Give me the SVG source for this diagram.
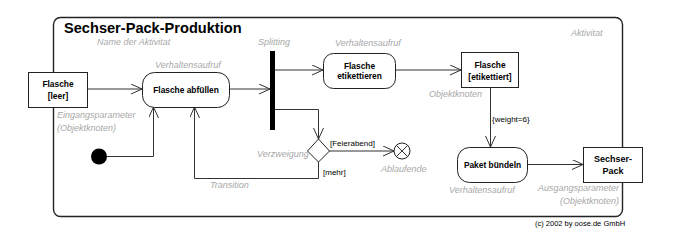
<svg xmlns="http://www.w3.org/2000/svg" width="675" height="246" viewBox="0 0 675 246">
  <style>
    .frame { fill: #ffffff; stroke: #222222; stroke-width: 1.4; }
    .node { fill: #ffffff; stroke: #222222; stroke-width: 1; }
    .edge { fill: none; stroke: #333333; stroke-width: 1; }
    .name { font-family: "Liberation Sans", Arial, sans-serif; font-weight: bold; font-size: 8.4px; fill: #000000; text-anchor: middle; }
    .title { font-family: "Liberation Sans", Arial, sans-serif; font-weight: bold; font-size: 14.6px; fill: #000000; }
    .note { font-family: "Liberation Sans", Arial, sans-serif; font-style: italic; font-size: 9px; fill: #a8a8a8; }
    .guard { font-family: "Liberation Sans", Arial, sans-serif; font-size: 8px; fill: #000000; }
  </style>
  <defs>
    <marker id="open" markerUnits="userSpaceOnUse" markerWidth="13" markerHeight="12" refX="11" refY="5" orient="auto">
      <path d="M0,0 L11,5 L0,10" fill="none" stroke="#333333" stroke-width="1"/>
    </marker>
  </defs>

  <rect width="675" height="246" fill="#ffffff"/>

  <!-- activity frame -->
  <g id="activity">
    <rect class="frame" x="53.5" y="17.5" width="569" height="199" rx="7"/>
    <text class="title" x="64" y="33">Sechser-Pack-Produktion</text>
  </g>

  <!-- control and object flows -->
  <g id="connectors">
    <path class="edge" d="M87,89 H142" marker-end="url(#open)"/>
    <path class="edge" d="M229,89 H270" marker-end="url(#open)"/>
    <path class="edge" d="M275,70 H323" marker-end="url(#open)"/>
    <path class="edge" d="M395,70 H461" marker-end="url(#open)"/>
    <path class="edge" d="M490.5,87 V147" marker-end="url(#open)"/>
    <path class="edge" d="M527,164.5 H583" marker-end="url(#open)"/>
    <path class="edge" d="M107,156.5 H153.5 V107" marker-end="url(#open)"/>
    <path class="edge" d="M275,109.5 H318.5 V139" marker-end="url(#open)"/>
    <path class="edge" d="M329,151 H394" marker-end="url(#open)"/>
    <path class="edge" d="M318.5,162 V178.5 H194.5 V107" marker-end="url(#open)"/>
    <text class="guard" x="492" y="122">{weight=6}</text>
    <text class="guard" x="330" y="146">[Feierabend]</text>
    <text class="guard" x="323" y="175">[mehr]</text>
  </g>

  <g id="flasche-leer">
    <rect class="node" x="28.5" y="72.5" width="59" height="35"/>
    <text class="name" x="58" y="87">Flasche</text>
    <text class="name" x="58" y="99">[leer]</text>
  </g>

  <g id="flasche-abfuellen">
    <rect class="node" x="142.5" y="72.5" width="87" height="35" rx="12"/>
    <text class="name" x="186" y="93">Flasche abfüllen</text>
  </g>

  <g id="splitting">
    <rect x="270" y="51" width="5" height="79" fill="#000000"/>
  </g>

  <g id="flasche-etikettieren">
    <rect class="node" x="323.5" y="53.5" width="72" height="35" rx="10"/>
    <text class="name" x="359.5" y="69">Flasche</text>
    <text class="name" x="359.5" y="79">etikettieren</text>
  </g>

  <g id="flasche-etikettiert">
    <rect class="node" x="461.5" y="52.5" width="57" height="35"/>
    <text class="name" x="490" y="68">Flasche</text>
    <text class="name" x="490" y="80">[etikettiert]</text>
  </g>

  <g id="verzweigung">
    <polygon class="node" points="318.5,139 329.5,151 318.5,162 307.5,151"/>
  </g>

  <g id="ablaufende">
    <circle class="node" cx="402" cy="151" r="8"/>
    <path class="edge" d="M396.3,145.3 L407.7,156.7 M407.7,145.3 L396.3,156.7"/>
  </g>

  <g id="start">
    <circle cx="99" cy="156.5" r="8" fill="#000000"/>
  </g>

  <g id="paket-buendeln">
    <rect class="node" x="457.5" y="147.5" width="70" height="35" rx="12"/>
    <text class="name" x="492.5" y="168">Paket bündeln</text>
  </g>

  <g id="sechser-pack">
    <rect class="node" x="583.5" y="147.5" width="59" height="35"/>
    <text class="name" x="613" y="162" style="font-size:9px">Sechser-</text>
    <text class="name" x="613" y="174" style="font-size:9px">Pack</text>
  </g>

  <!-- explanatory notes -->
  <g id="notes">
    <text class="note" x="97" y="45">Name der Aktivitat</text>
    <text class="note" x="571" y="36">Aktivitat</text>
    <text class="note" x="155" y="68">Verhaltensaufruf</text>
    <text class="note" x="258" y="45">Splitting</text>
    <text class="note" x="335" y="46">Verhaltensaufruf</text>
    <text class="note" x="429" y="97">Objektknoten</text>
    <text class="note" x="57" y="118">Eingangsparameter</text>
    <text class="note" x="57" y="131">(Objektknoten)</text>
    <text class="note" x="210" y="188">Transition</text>
    <text class="note" x="257" y="157">Verzweigung</text>
    <text class="note" x="381" y="172">Ablaufende</text>
    <text class="note" x="449" y="193">Verhaltensaufruf</text>
    <text class="note" x="619" y="191" text-anchor="end">Ausgangsparameter</text>
    <text class="note" x="619" y="204" text-anchor="end">(Objektknoten)</text>
  </g>

  <text x="535" y="226" style="font-family:'Liberation Sans', Arial, sans-serif; font-size:7.5px; fill:#000000">(c) 2002 by oose.de GmbH</text>
</svg>
